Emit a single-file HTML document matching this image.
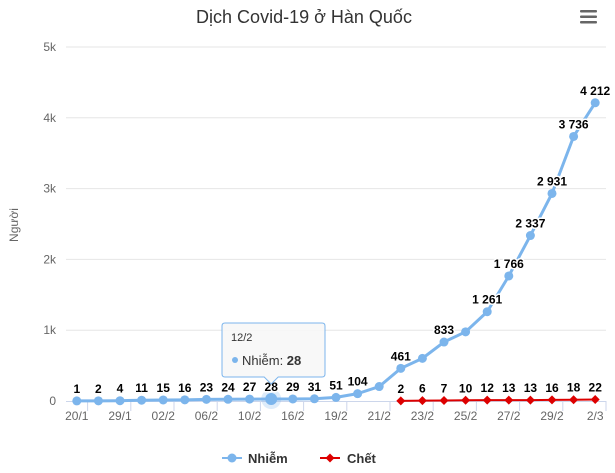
<!DOCTYPE html>
<html><head><meta charset="utf-8">
<style>
body{margin:0;background:#fff;font-family:"Liberation Sans",sans-serif;}
svg{display:block}
.lbl{font-size:12px;font-weight:bold;fill:#000;stroke:#fff;stroke-width:3px;paint-order:stroke;stroke-linejoin:round}
.ax{font-size:12px;fill:#666}
</style></head><body>
<svg id="c" width="615" height="473">
<text x="304" y="23" text-anchor="middle" font-size="18" fill="#333">Dịch Covid-19 ở Hàn Quốc</text>
<g fill="#666">
<rect x="580" y="10" width="17" height="2.5" rx="1"/><rect x="580" y="15.5" width="17" height="2.5" rx="1"/><rect x="580" y="21" width="17" height="2.5" rx="1"/>
</g>
<text x="0" y="0" transform="translate(18,225) rotate(-90)" text-anchor="middle" font-size="12" fill="#666">Người</text>
<g id="grid"></g><g id="series"></g><g id="labels"></g>
<g>
<g><line x1="222" y1="458" x2="242" y2="458" stroke="#7cb5ec" stroke-width="2"/><circle cx="232" cy="458" r="4.5" fill="#7cb5ec"/><text x="248" y="463" font-size="13" font-weight="bold" fill="#333">Nhiễm</text></g>
<g><line x1="320" y1="458" x2="340" y2="458" stroke="#d00" stroke-width="2"/><path d="M330 453.5 L334.5 458 L330 462.5 L325.5 458Z" fill="#d00"/><text x="347" y="463" font-size="13" font-weight="bold" fill="#333">Chết</text></g>
</g>
<g id="tip"></g>
</svg>
<script>
const categories=["20/1","24/1","29/1","31/1","02/2","04/2","06/2","08/2","10/2","12/2","16/2","18/2","19/2","20/2","21/2","22/2","23/2","24/2","25/2","26/2","27/2","28/2","29/2","1/3","2/3"];
const infected=[1,2,4,11,15,16,23,24,27,28,29,31,51,104,204,461,602,833,977,1261,1766,2337,2931,3736,4212];
const deaths=[null,null,null,null,null,null,null,null,null,null,null,null,null,null,null,2,6,7,10,12,13,13,16,18,22];
const infectedLabelShown=[1,1,1,1,1,1,1,1,1,1,1,1,1,1,0,1,0,1,0,1,1,1,1,1,1];
const yTicks=[0,1000,2000,3000,4000,5000];
const yTickLabels=["0","1k","2k","3k","4k","5k"];
const hoverIndex=9;
const NS="http://www.w3.org/2000/svg";
const L=66,R=606,T=47,B=401,yMax=5000;
const step=(R-L)/categories.length;
const x=i=>L+step*(i+0.5);
const y=v=>B-(v/yMax)*(B-T);
function mk(tag,attrs,parent){const e=document.createElementNS(NS,tag);for(const k in attrs)e.setAttribute(k,attrs[k]);parent.appendChild(e);return e;}
const fmt=v=>String(v).replace(/\B(?=(\d{3})+(?!\d))/g," ");
const grid=document.getElementById('grid');
const series=document.getElementById('series');
const labels=document.getElementById('labels');
yTicks.forEach((t,i)=>{
 if(i>0){const g=mk('line',{x1:L,x2:R,y1:y(t),y2:y(t),stroke:'#e6e6e6'},grid);
 
 }
 const tx=mk('text',{x:L-10,y:y(t)+4,'text-anchor':'end',class:'ax'},grid);tx.textContent=yTickLabels[i];
 
 
});
const axl=mk('line',{x1:L,x2:R,y1:B+0.5,y2:B+0.5,stroke:'#ccd6eb'},grid);


categories.forEach((c,i)=>{
 if(i%2===0){
  const tk=mk('line',{x1:x(i)+step/2,x2:x(i)+step/2,y1:B,y2:B+10,stroke:'#ccd6eb'},grid);
  
  
  const tx=mk('text',{x:x(i),y:B+19,'text-anchor':'middle',class:'ax'},grid);tx.textContent=c;
  
  
 }
});
// infected line
const ip=infected.map((v,i)=>x(i)+','+y(v)).join(' ');
const il=mk('polyline',{points:ip,fill:'none',stroke:'#7cb5ec','stroke-width':3,'stroke-linejoin':'round'},series);


const dIdx=deaths.map((v,i)=>v==null?null:i).filter(i=>i!=null);
const dp=dIdx.map(i=>x(i)+','+y(deaths[i])).join(' ');
const dl=mk('polyline',{points:dp,fill:'none',stroke:'#d00','stroke-width':2},series);


infected.forEach((v,i)=>{
 if(i===hoverIndex){const h=mk('circle',{cx:x(i),cy:y(v),r:10,fill:'#7cb5ec','fill-opacity':0.25},series);
  
  }
 const c=mk('circle',{cx:x(i),cy:y(v),r:i===hoverIndex?6:4.5,fill:'#7cb5ec'},series);
 
 
 if(infectedLabelShown[i]){
  const t=mk('text',{x:x(i),y:y(v)-8,'text-anchor':'middle',class:'lbl'},labels);t.textContent=fmt(v);
  
  
 }
});
dIdx.forEach(i=>{
 const cx=x(i),cy=y(deaths[i]);
 const d=mk('path',{d:`M${cx} ${cy-4.5}L${cx+4.5} ${cy}L${cx} ${cy+4.5}L${cx-4.5} ${cy}Z`,fill:'#d00'},series);
 
 
 const t=mk('text',{x:cx,y:cy-8,'text-anchor':'middle',class:'lbl'},labels);t.textContent=fmt(deaths[i]);
 
 
});
// tooltip
const tip=document.getElementById('tip');


const hx=x(hoverIndex);
const bx=222,by=323,bw=103,bh=54;
mk('path',{d:`M${bx+3} ${by}H${bx+bw-3}Q${bx+bw} ${by} ${bx+bw} ${by+3}V${by+bh-3}Q${bx+bw} ${by+bh} ${bx+bw-3} ${by+bh}H${hx+7}L${hx} ${by+bh+7}L${hx-7} ${by+bh}H${bx+3}Q${bx} ${by+bh} ${bx} ${by+bh-3}V${by+3}Q${bx} ${by} ${bx+3} ${by}Z`,fill:'rgba(247,247,247,0.88)',stroke:'#7cb5ec','stroke-width':1},tip);
const t1=mk('text',{x:bx+9,y:by+18,'font-size':11,fill:'#333'},tip);t1.textContent=categories[hoverIndex];
mk('circle',{cx:bx+13,cy:by+37,r:3,fill:'#7cb5ec'},tip);
const t2=mk('text',{x:bx+20,y:by+42,'font-size':13,fill:'#333'},tip);
t2.innerHTML='Nhiễm: <tspan font-weight="bold">'+infected[hoverIndex]+'</tspan>';
</script>
</body></html>
